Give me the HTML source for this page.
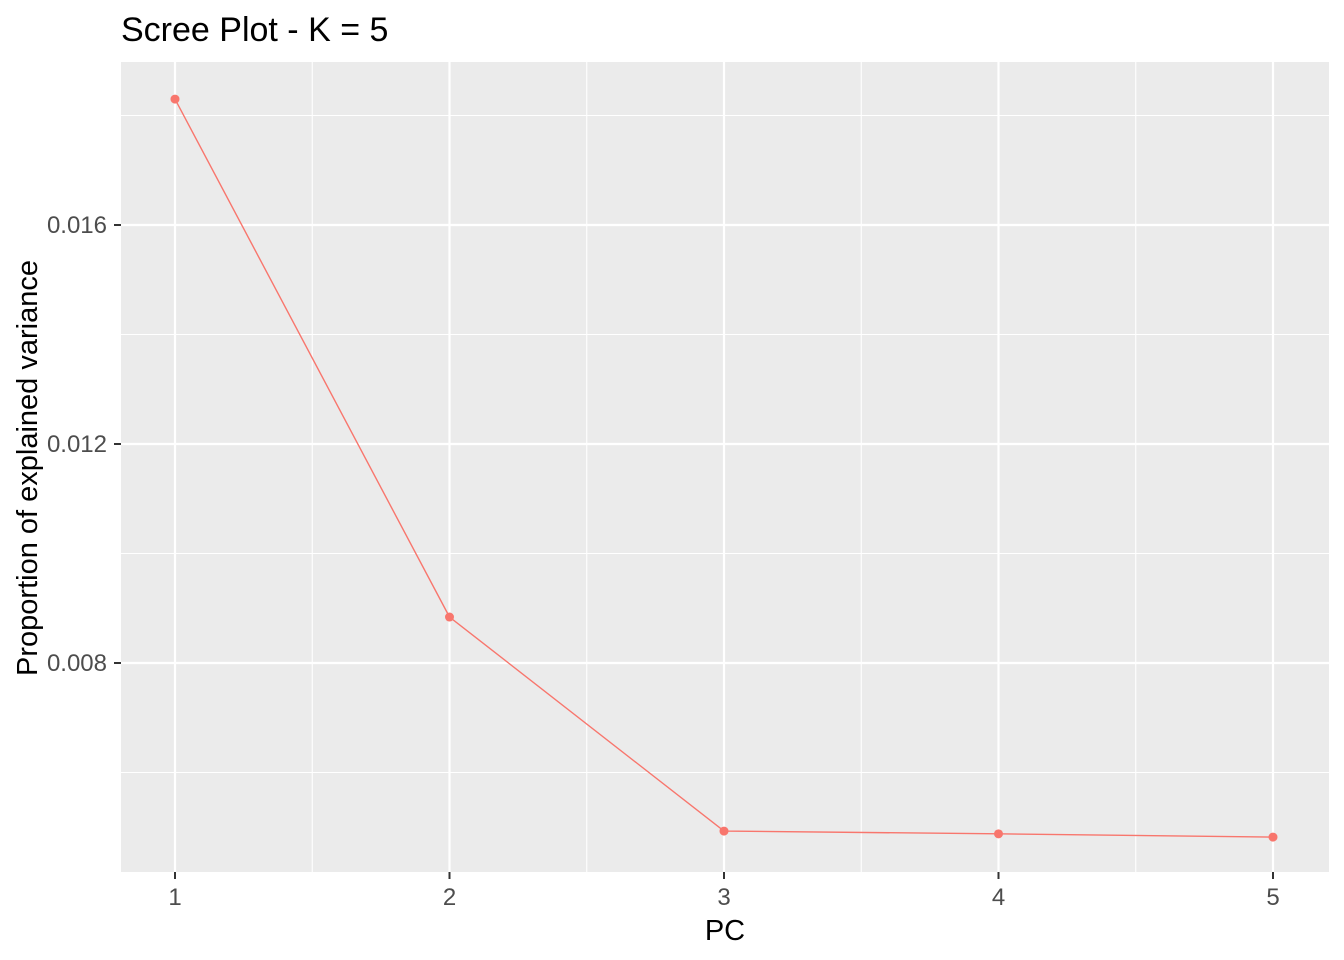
<!DOCTYPE html>
<html><head><meta charset="utf-8"><style>
html,body{margin:0;padding:0;background:#fff;width:1344px;height:960px;overflow:hidden}
svg text{font-family:"Liberation Sans",Arial,sans-serif}
</style></head><body>
<svg id="chart" width="1344" height="960" xmlns="http://www.w3.org/2000/svg">
<text x="121" y="41" font-size="34" fill="#000">Scree Plot - K = 5</text>
<rect x="121" y="62" width="1208" height="810" fill="#ebebeb"/>
<g id="grid"></g>
<g id="series"></g>
<g id="axes"></g>
<text x="725" y="940" font-size="29" text-anchor="middle" fill="#000">PC</text>
<text transform="translate(37,468) rotate(-90)" font-size="29" text-anchor="middle" fill="#000">Proportion of explained variance</text>
</svg>
<script>
const categories = [1, 2, 3, 4, 5];
const variance = [0.0183, 0.00884, 0.00493, 0.00488, 0.00482];
const yTicks = [0.008, 0.012, 0.016];
const yTickLabels = ["0.008", "0.012", "0.016"];
const yMinor = [0.006, 0.010, 0.014, 0.018];
const xMinor = [1.5, 2.5, 3.5, 4.5];

const NS = "http://www.w3.org/2000/svg";
function X(v){ return 175 + (v - 1) * 274.5; }
function Y(v){ return 663 - (v - 0.008) * 54750; }
function mk(tag, attrs, parent){
  const e = document.createElementNS(NS, tag);
  for (const k in attrs) e.setAttribute(k, attrs[k]);
  parent.appendChild(e); return e;
}
const grid = document.getElementById('grid');
const axes = document.getElementById('axes');
const series = document.getElementById('series');

yMinor.forEach(v => {
  const l = mk('line', {x1:121, x2:1329, y1:Y(v), y2:Y(v), stroke:'#fff', 'stroke-width':1.1}, grid);
  
  
});
xMinor.forEach(v => {
  const l = mk('line', {x1:X(v), x2:X(v), y1:62, y2:872, stroke:'#fff', 'stroke-width':1.1}, grid);
  
  
});
yTicks.forEach((v, i) => {
  const l = mk('line', {x1:121, x2:1329, y1:Y(v), y2:Y(v), stroke:'#fff', 'stroke-width':2.2}, grid);
  
  
  const t = mk('line', {x1:114, x2:121, y1:Y(v), y2:Y(v), stroke:'#333', 'stroke-width':2}, axes);
  
  
  const tx = mk('text', {x:107, y:Y(v) + 8, 'font-size':24, 'text-anchor':'end', fill:'#4d4d4d'}, axes);
  tx.textContent = yTickLabels[i];
  
  
});
categories.forEach(c => {
  const l = mk('line', {x1:X(c), x2:X(c), y1:62, y2:872, stroke:'#fff', 'stroke-width':2.2}, grid);
  
  
  const t = mk('line', {x1:X(c), x2:X(c), y1:872, y2:879, stroke:'#333', 'stroke-width':2}, axes);
  
  
  const tx = mk('text', {x:X(c), y:905, 'font-size':24, 'text-anchor':'middle', fill:'#4d4d4d'}, axes);
  tx.textContent = String(c);
  
  
});
const pts = categories.map((c, i) => X(c) + ',' + Y(variance[i])).join(' ');
const line = mk('polyline', {points:pts, fill:'none', stroke:'#f8766d', 'stroke-width':1.4}, series);


categories.forEach((c, i) => {
  const p = mk('circle', {cx:X(c), cy:Y(variance[i]), r:4.5, fill:'#f8766d'}, series);
  
  
});
</script>
</body></html>
